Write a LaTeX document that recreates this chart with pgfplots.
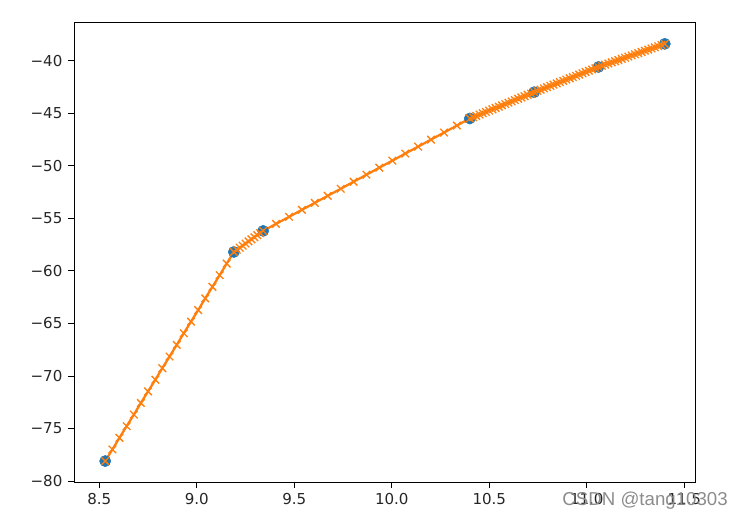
\documentclass[border=0pt]{standalone}
\usepackage{pgfplots}
\pgfplotsset{compat=1.18}
\usepackage{fontspec}
\setmainfont{DejaVu Sans}
\newfontfamily\wmfont{Liberation Sans}
\definecolor{c0}{HTML}{1F77B4}
\definecolor{c1}{HTML}{FF7F0E}

\begin{document}
\begin{tikzpicture}[x=0.75pt,y=0.75pt]
  \useasboundingbox (-74,-38) rectangle (668,482);
  \begin{axis}[
      at={(0,0)}, anchor=south west,
      scale only axis,
      width=465.75pt, height=345pt,
      xmin=8.37, xmax=11.555,
      ymin=-80.09, ymax=-36.32,
      xtick={8.5,9.0,9.5,10.0,10.5,11.0,11.5},
      xticklabels={8.5,9.0,9.5,10.0,10.5,11.0,11.5},
      ytick={-80,-75,-70,-65,-60,-55,-50,-45,-40},
      yticklabels={−80,−75,−70,−65,−60,−55,−50,−45,−40},
      tick align=outside,
      xtick pos=bottom, ytick pos=left,
      major tick length=4.2pt,
      every tick/.style={black, line width=0.6pt},
      axis line style={line width=0.6pt},
      tick label style={font=\fontsize{11.3}{13}\selectfont, text=black!85},
      xticklabel style={yshift=-1pt},
      yticklabel style={xshift=-1pt},
      clip=false,
    ]
    % measured points
    \addplot[only marks, mark=*, mark size=4.2pt, color=c0, mark options={draw=none, fill=c0}]
    coordinates {
      (8.53,-78.10) (9.19,-58.20) (9.34,-56.20) (10.40,-45.50)
      (10.73,-43.00) (11.06,-40.60) (11.40,-38.40)
    };
    % dense curve
    \addplot[color=c1, line width=1.7pt, mark=x, mark size=4pt, mark options={line width=1pt}]
    table {
      x y
      8.530 -78.10
      8.567 -76.99
      8.603 -75.89
      8.640 -74.78
      8.677 -73.68
      8.713 -72.57
      8.750 -71.47
      8.787 -70.36
      8.823 -69.26
      8.860 -68.15
      8.897 -67.04
      8.933 -65.94
      8.970 -64.83
      9.007 -63.73
      9.043 -62.62
      9.080 -61.52
      9.117 -60.41
      9.153 -59.31
      9.190 -58.20
      9.205 -58.00
      9.220 -57.80
      9.235 -57.60
      9.250 -57.40
      9.265 -57.20
      9.280 -57.00
      9.295 -56.80
      9.310 -56.60
      9.325 -56.40
      9.340 -56.20
      9.406 -55.53
      9.473 -54.86
      9.539 -54.19
      9.605 -53.53
      9.671 -52.86
      9.738 -52.19
      9.804 -51.52
      9.870 -50.85
      9.936 -50.18
      10.003 -49.51
      10.069 -48.84
      10.135 -48.18
      10.201 -47.51
      10.268 -46.84
      10.334 -46.17
      10.400 -45.50
      10.417 -45.38
      10.433 -45.25
      10.450 -45.13
      10.466 -45.00
      10.483 -44.88
      10.499 -44.75
      10.516 -44.63
      10.532 -44.50
      10.549 -44.38
      10.565 -44.25
      10.582 -44.13
      10.598 -44.00
      10.615 -43.88
      10.631 -43.75
      10.648 -43.63
      10.664 -43.50
      10.681 -43.38
      10.697 -43.25
      10.714 -43.13
      10.730 -43.00
      10.747 -42.88
      10.763 -42.76
      10.780 -42.64
      10.796 -42.52
      10.813 -42.40
      10.829 -42.28
      10.846 -42.16
      10.862 -42.04
      10.879 -41.92
      10.895 -41.80
      10.912 -41.68
      10.928 -41.56
      10.945 -41.44
      10.961 -41.32
      10.978 -41.20
      10.994 -41.08
      11.011 -40.96
      11.027 -40.84
      11.044 -40.72
      11.060 -40.60
      11.077 -40.49
      11.094 -40.38
      11.111 -40.27
      11.128 -40.16
      11.145 -40.05
      11.162 -39.94
      11.179 -39.83
      11.196 -39.72
      11.213 -39.61
      11.230 -39.50
      11.247 -39.39
      11.264 -39.28
      11.281 -39.17
      11.298 -39.06
      11.315 -38.95
      11.332 -38.84
      11.349 -38.73
      11.366 -38.62
      11.383 -38.51
      11.400 -38.40
    };
  \end{axis}
  \node[anchor=base east, text=black!45, font=\wmfont\fontsize{14}{16}\selectfont, inner sep=0pt]
    at (654,-24) {CSDN @tang10303};
\end{tikzpicture}
\end{document}
